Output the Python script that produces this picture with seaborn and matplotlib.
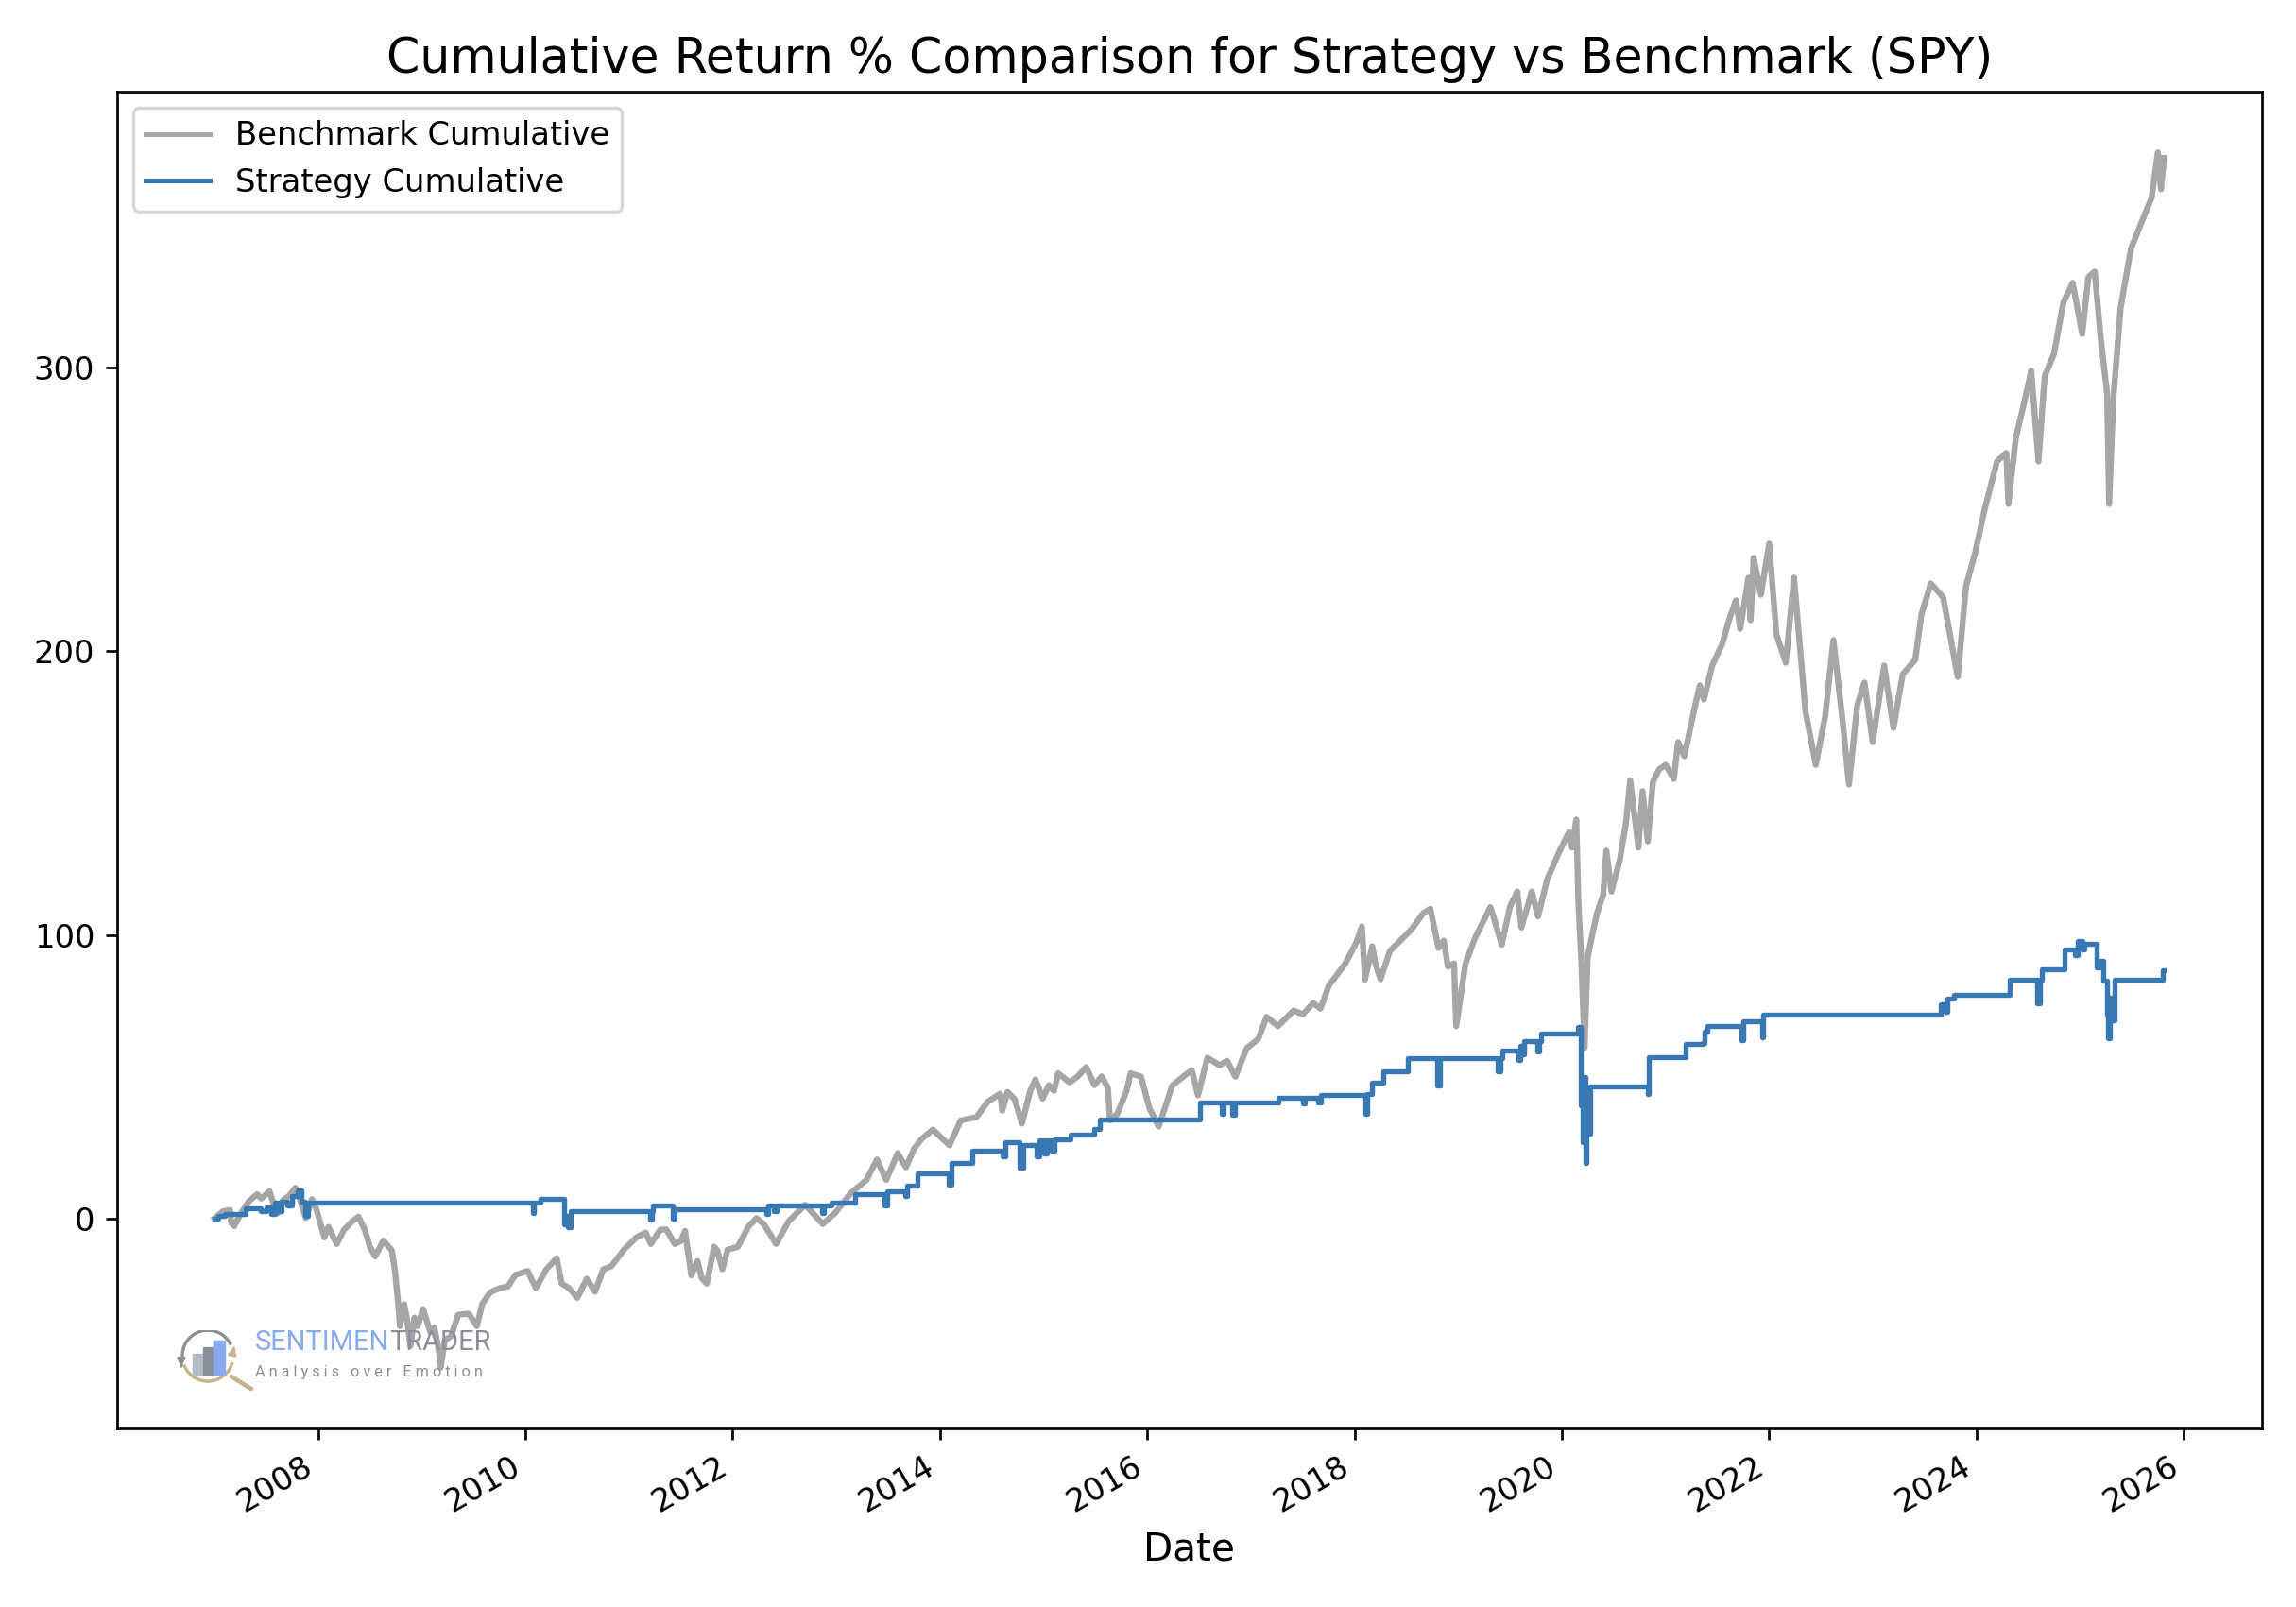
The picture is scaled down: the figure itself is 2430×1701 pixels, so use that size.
"""
Cumulative Return % Comparison for Strategy vs Benchmark (SPY).
Values read off the reference chart (decimal years, cumulative % return).
"""
import matplotlib
matplotlib.use('Agg')
import matplotlib.pyplot as plt
import matplotlib.dates as mdates
import matplotlib.patches as mpatches
from matplotlib.patches import Arc, FancyArrowPatch
import seaborn as sns
import pandas as pd

# Benchmark (SPY) cumulative return, %
bench_years = [
    2007.00, 2007.08, 2007.15, 2007.16, 2007.19, 2007.25, 2007.33, 2007.41, 2007.45, 2007.53,
    2007.58, 2007.61, 2007.66, 2007.72, 2007.78, 2007.83, 2007.88, 2007.94, 2007.98, 2008.06,
    2008.10, 2008.18, 2008.25, 2008.33, 2008.39, 2008.45, 2008.50, 2008.55, 2008.63, 2008.71,
    2008.74, 2008.77, 2008.79, 2008.83, 2008.86, 2008.89, 2008.93, 2008.96, 2009.01, 2009.08,
    2009.12, 2009.16, 2009.18, 2009.22, 2009.28, 2009.35, 2009.45, 2009.53, 2009.58, 2009.66,
    2009.75, 2009.83, 2009.90, 2010.02, 2010.10, 2010.20, 2010.30, 2010.35, 2010.42, 2010.50,
    2010.59, 2010.67, 2010.75, 2010.83, 2010.95, 2011.07, 2011.16, 2011.21, 2011.30, 2011.36,
    2011.44, 2011.50, 2011.54, 2011.60, 2011.66, 2011.70, 2011.75, 2011.82, 2011.85, 2011.90,
    2011.95, 2012.05, 2012.15, 2012.23, 2012.30, 2012.42, 2012.54, 2012.70, 2012.87, 2012.99,
    2013.14, 2013.29, 2013.39, 2013.48, 2013.59, 2013.67, 2013.75, 2013.82, 2013.93, 2014.09,
    2014.20, 2014.35, 2014.46, 2014.58, 2014.60, 2014.65, 2014.72, 2014.79, 2014.87, 2014.92,
    2014.99, 2015.05, 2015.10, 2015.14, 2015.25, 2015.33, 2015.41, 2015.49, 2015.56, 2015.62,
    2015.64, 2015.71, 2015.80, 2015.84, 2015.94, 2016.02, 2016.11, 2016.18, 2016.24, 2016.35,
    2016.43, 2016.49, 2016.58, 2016.70, 2016.77, 2016.85, 2016.96, 2017.07, 2017.15, 2017.26,
    2017.41, 2017.50, 2017.60, 2017.67, 2017.75, 2017.91, 2018.02, 2018.07, 2018.10, 2018.17,
    2018.20, 2018.25, 2018.34, 2018.46, 2018.55, 2018.66, 2018.73, 2018.81, 2018.86, 2018.90,
    2018.96, 2018.98, 2019.07, 2019.16, 2019.31, 2019.34, 2019.42, 2019.50, 2019.57, 2019.61,
    2019.71, 2019.77, 2019.86, 2019.98, 2020.07, 2020.10, 2020.14, 2020.16, 2020.19, 2020.22,
    2020.25, 2020.30, 2020.34, 2020.40, 2020.43, 2020.48, 2020.56, 2020.62, 2020.66, 2020.74,
    2020.78, 2020.83, 2020.88, 2020.94, 2021.00, 2021.08, 2021.12, 2021.18, 2021.28, 2021.33,
    2021.37, 2021.45, 2021.55, 2021.62, 2021.68, 2021.72, 2021.80, 2021.82, 2021.85, 2021.92,
    2022.00, 2022.07, 2022.16, 2022.24, 2022.35, 2022.45, 2022.54, 2022.62, 2022.71, 2022.77,
    2022.85, 2022.92, 2023.00, 2023.11, 2023.20, 2023.29, 2023.41, 2023.47, 2023.56, 2023.68,
    2023.82, 2023.90, 2023.99, 2024.08, 2024.20, 2024.29, 2024.31, 2024.38, 2024.47, 2024.53,
    2024.60, 2024.66, 2024.75, 2024.84, 2024.93, 2025.02, 2025.08, 2025.14, 2025.20, 2025.26,
    2025.28, 2025.32, 2025.39, 2025.49, 2025.60, 2025.69, 2025.75, 2025.78, 2025.81,
]
bench_values = [
    0.0, 2.5, 3.0, -1.5, -2.7, 1.5, 6.0, 8.5, 7.0, 9.6,
    4.0, 1.8, 6.5, 8.0, 10.8, 6.0, 0.1, 6.8, 3.5, -6.7,
    -3.0, -9.0, -4.0, -1.0, 0.6, -4.0, -10.0, -13.4, -7.8, -11.2,
    -18.0, -29.1, -38.0, -30.3, -36.0, -45.0, -35.0, -38.0, -32.0, -40.0,
    -38.5, -46.0, -52.7, -43.0, -41.5, -34.0, -33.6, -38.0, -30.3, -26.0,
    -24.6, -24.0, -20.0, -18.5, -24.6, -18.0, -14.0, -23.0, -24.6, -28.0,
    -21.3, -25.8, -18.0, -16.8, -11.0, -6.7, -5.0, -9.0, -4.0, -3.9,
    -9.0, -8.0, -4.4, -20.1, -15.0, -21.0, -23.0, -10.0, -11.2, -17.9,
    -11.0, -10.0, -3.0, 0.1, -2.0, -9.0, -1.0, 4.8, -2.0, 2.0,
    9.0, 13.6, 20.8, 13.6, 23.0, 18.0, 24.7, 28.0, 31.3, 25.8,
    34.6, 35.7, 41.2, 44.0, 38.0, 44.6, 42.0, 33.5, 45.0, 49.0,
    42.3, 47.0, 45.0, 51.2, 48.0, 50.1, 53.4, 47.0, 50.1, 46.0,
    34.6, 36.8, 45.0, 51.2, 50.0, 39.0, 32.4, 40.0, 46.8, 50.1,
    52.3, 43.4, 56.7, 54.0, 55.6, 50.0, 60.0, 63.3, 71.1, 67.8,
    73.3, 72.0, 76.0, 74.0, 82.1, 89.9, 97.6, 103.0, 84.3, 96.0,
    90.0, 84.4, 94.3, 98.7, 102.0, 107.6, 109.2, 95.4, 98.0, 88.8,
    89.9, 67.8, 89.9, 98.7, 109.8, 106.5, 96.5, 110.0, 115.3, 102.6,
    115.3, 106.5, 119.7, 129.7, 136.3, 130.8, 140.7, 112.0, 89.9, 60.1,
    92.1, 101.0, 107.6, 114.2, 129.7, 115.3, 126.4, 139.6, 154.5, 130.8,
    150.7, 133.0, 154.0, 158.4, 160.0, 155.0, 168.0, 163.0, 180.0, 188.0,
    183.0, 195.0, 203.0, 212.0, 218.0, 208.0, 226.0, 211.0, 233.0, 220.0,
    238.0, 206.0, 196.0, 226.0, 179.0, 160.0, 177.0, 204.0, 175.0, 153.0,
    181.0, 189.0, 168.0, 195.0, 173.0, 192.0, 197.0, 213.0, 224.0, 219.0,
    191.0, 223.0, 235.0, 250.0, 267.0, 270.0, 252.0, 275.0, 289.0, 299.0,
    267.0, 297.0, 305.0, 323.0, 330.0, 312.0, 332.0, 334.0, 310.0, 291.0,
    252.0, 289.0, 321.0, 342.0, 352.0, 360.0, 376.0, 363.0, 374.0,
]

# Strategy cumulative return, %: level changes (held until the next entry)
strat_years = [
    2007.00, 2007.04, 2007.10, 2007.17, 2007.30, 2007.45, 2007.50, 2007.55, 2007.58, 2007.62,
    2007.65, 2007.70, 2007.75, 2007.80, 2007.84, 2007.87, 2007.90, 2010.07, 2010.08, 2010.14,
    2010.37, 2010.39, 2010.41, 2010.44, 2011.20, 2011.22, 2011.23, 2011.42, 2011.44, 2012.32,
    2012.34, 2012.40, 2012.42, 2012.86, 2012.88, 2012.95, 2013.18, 2013.46, 2013.49, 2013.66,
    2013.68, 2013.78, 2014.08, 2014.11, 2014.31, 2014.60, 2014.63, 2014.77, 2014.80, 2014.93,
    2014.96, 2015.00, 2015.03, 2015.08, 2015.10, 2015.26, 2015.49, 2015.54, 2016.51, 2016.72,
    2016.74, 2016.82, 2016.85, 2017.26, 2017.50, 2017.52, 2017.65, 2017.67, 2018.10, 2018.12,
    2018.17, 2018.28, 2018.51, 2018.80, 2018.82, 2019.38, 2019.41, 2019.43, 2019.58, 2019.60,
    2019.62, 2019.64, 2019.76, 2019.78, 2019.80, 2020.16, 2020.18, 2020.20, 2020.22, 2020.23,
    2020.24, 2020.26, 2020.27, 2020.83, 2020.84, 2021.19, 2021.36, 2021.38, 2021.40, 2021.73,
    2021.75, 2021.93, 2021.94, 2023.66, 2023.70, 2023.72, 2023.78, 2024.32, 2024.59, 2024.61,
    2024.63, 2024.85, 2024.95, 2024.98, 2025.02, 2025.04, 2025.16, 2025.19, 2025.22, 2025.26,
    2025.27, 2025.29, 2025.31, 2025.33, 2025.80, 2025.81,
]
strat_values = [
    0.0, 1.0, 1.5, 1.5, 3.5, 2.5, 4.0, 1.5, 5.5, 2.5,
    6.0, 4.5, 8.0, 10.0, 6.0, 1.0, 5.7, 1.8, 5.7, 7.0,
    -2.0, 1.0, -3.0, 2.6, -0.5, 2.6, 4.6, 0.0, 3.1, 1.5,
    4.6, 2.5, 4.6, 2.0, 4.6, 5.5, 8.5, 4.5, 9.5, 8.0,
    11.5, 16.0, 12.0, 19.5, 24.0, 22.0, 27.0, 18.0, 26.0, 22.0,
    27.5, 23.0, 27.5, 24.0, 28.0, 29.5, 31.5, 35.0, 41.0, 37.0,
    41.0, 36.5, 41.0, 42.7, 40.5, 42.7, 41.0, 43.5, 37.0, 44.0,
    48.0, 52.0, 56.5, 47.0, 56.5, 52.0, 56.5, 59.2, 56.0, 61.0,
    58.0, 62.5, 59.0, 62.5, 65.2, 67.4, 40.0, 27.0, 50.0, 19.5,
    37.0, 30.0, 46.5, 44.0, 57.0, 61.4, 62.0, 66.0, 68.0, 63.0,
    69.7, 64.0, 71.9, 75.5, 73.0, 77.5, 79.0, 84.3, 76.0, 84.3,
    88.0, 94.8, 93.0, 98.0, 95.0, 97.0, 88.5, 91.0, 84.0, 72.0,
    63.5, 78.0, 70.0, 84.3, 87.5, 87.5,
]

BENCH_COLOR = '#a6a6a6'
STRAT_COLOR = '#3878b3'


def year_to_date(y):
    """Decimal year -> Timestamp."""
    year = int(y)
    return pd.Timestamp(year=year, month=1, day=1) + pd.Timedelta(days=(y - year) * 365.25)


bench_dates = [year_to_date(y) for y in bench_years]
strat_dates = [year_to_date(y) for y in strat_years]

fig = plt.figure(figsize=(10, 7), dpi=243)
ax = fig.add_axes([0.051, 0.111, 0.934, 0.832])

sns.lineplot(x=bench_dates, y=bench_values, ax=ax, color=BENCH_COLOR, linewidth=1.9,
             label='Benchmark Cumulative')
sns.lineplot(x=strat_dates, y=strat_values, ax=ax, color=STRAT_COLOR, linewidth=1.6,
             label='Strategy Cumulative', drawstyle='steps-post')

ax.xaxis.set_major_locator(mdates.YearLocator(2))
ax.xaxis.set_major_formatter(mdates.DateFormatter('%Y'))
plt.setp(ax.get_xticklabels(), rotation=30, ha='right')

ax.set_title('Cumulative Return % Comparison for Strategy vs Benchmark (SPY)', fontsize=15)
ax.set_xlabel('Date', fontsize=12)
ax.set_ylabel('')
leg = ax.legend(loc='upper left')
for line in leg.get_lines():
    line.set_linewidth(1.5)

# watermark text
t1 = ax.text(0.0643, 0.0544, 'SENTIMEN', transform=ax.transAxes, family='Roboto',
             fontsize=8.6, color='#8aaaf0', va='bottom', ha='left', zorder=5)
ax.annotate('TRADER', xy=(1, 0), xycoords=t1, family='Roboto', fontsize=8.6,
            color='#8a8f99', va='bottom', ha='left', zorder=5)
ax.text(0.0643, 0.0389, 'A n a l y s i s   o v e r   E m o t i o n', transform=ax.transAxes,
        family='Roboto', fontsize=4.8, color='#8a8f99', va='baseline', ha='left', zorder=5)

# watermark icon (pixel units)
ax_icon = fig.add_axes([0.0757, 0.1340, 0.0366, 0.0382])
ax_icon.set_xlim(0, 89)
ax_icon.set_ylim(-6, 59)
ax_icon.axis('off')
ax_icon.add_patch(Arc((36, 32), 54, 54, theta1=25, theta2=186, color='#8a8f99', lw=1.0))
ax_icon.add_patch(Arc((36, 32), 54, 54, theta1=200, theta2=345, color='#c8b48c', lw=1.0))
ax_icon.add_patch(FancyArrowPatch((8, 28), (8, 20), arrowstyle='-|>', mutation_scale=5,
                                  color='#8a8f99', lw=0.8))
ax_icon.add_patch(FancyArrowPatch((62, 33), (64, 42), arrowstyle='-|>', mutation_scale=5,
                                  color='#c8b48c', lw=0.8))
ax_icon.add_patch(mpatches.Rectangle((21, 13.3), 8.3, 20, color='#b8bcc6'))
ax_icon.add_patch(mpatches.Rectangle((32, 13.3), 9, 26.7, color='#8a8f99'))
ax_icon.add_patch(mpatches.Rectangle((43.3, 13.3), 9.3, 33.3, color='#8aaaf0'))
ax_icon.plot([61, 82], [10, -3], color='#c8b48c', lw=1.4, solid_capstyle='round')

fig.savefig('out.png', dpi=243)
plt.close(fig)
